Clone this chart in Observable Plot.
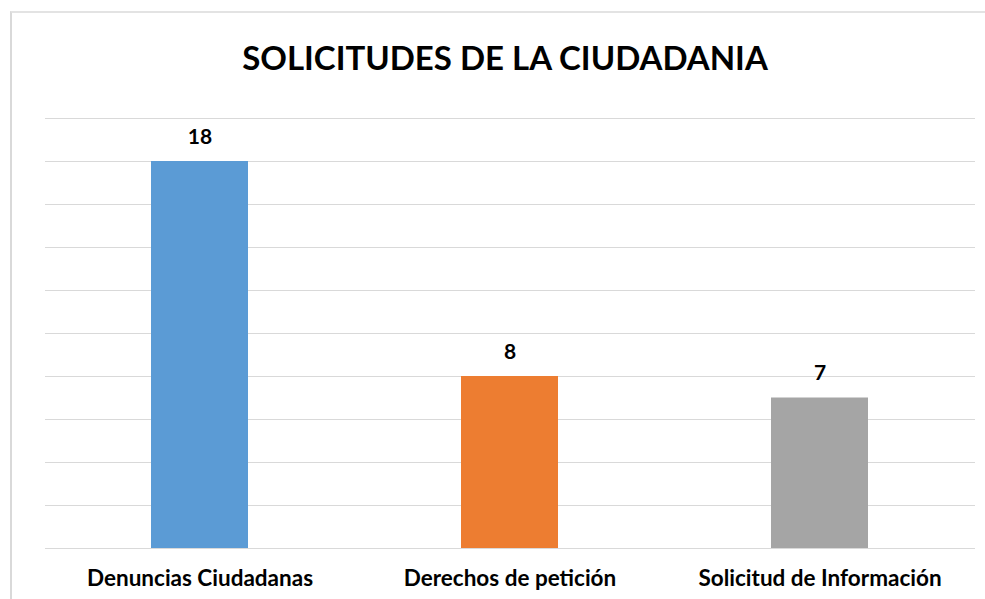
<!DOCTYPE html>
<html>
<head>
<meta charset="utf-8">
<script src="https://cdn.jsdelivr.net/npm/d3@7"></script>
<script src="https://cdn.jsdelivr.net/npm/@observablehq/plot@0.6"></script>
<style>
  html, body { margin: 0; padding: 0; background: #fff; }
  body { width: 985px; height: 599px; position: relative; overflow: hidden; font-family: Lato, "Open Sans", sans-serif; }
  #frame { position: absolute; left: 10px; top: 11px; width: 975px; height: 588px; border-left: 2px solid #d9d9d9; border-top: 2px solid #e3e3e3; box-sizing: border-box; }
  #title { position: absolute; left: 0; width: 1010px; top: 37px; text-align: center; font-weight: 700; font-size: 33px; color: #000; }
  #chart { position: absolute; left: 0; top: 100px; }
</style>
</head>
<body>
<div id="frame"></div>
<div id="title">SOLICITUDES DE LA CIUDADANIA</div>
<div id="chart"></div>
<script>
const categories = ["Denuncias Ciudadanas", "Derechos de petición", "Solicitud de Información"];
const values = [18, 8, 7];
const barColors = ["#5B9BD5", "#ED7D31", "#A5A5A5"];
const yTicks = [0, 2, 4, 6, 8, 10, 12, 14, 16, 18, 20];

const data = categories.map((c, i) => ({category: c, value: values[i], color: barColors[i]}));

const plot = Plot.plot({
  width: 985,
  height: 499,
  marginTop: 18,
  marginBottom: 51,
  marginLeft: 45,
  marginRight: 10,
  style: {fontFamily: "Lato, 'Open Sans', sans-serif", background: "transparent"},
  x: {domain: categories, paddingInner: 0.687, paddingOuter: 0.3435, label: null},
  y: {domain: [0, 20], label: null, axis: null},
  marks: [
    Plot.ruleY(yTicks, {stroke: "#d9d9d9", strokeWidth: 1.2}),
    Plot.barY(data, {x: "category", y: "value", fill: "color"}),
    Plot.text(data, {x: "category", y: "value", text: d => String(d.value), lineAnchor: "bottom", dy: -18, fontSize: 21, fontWeight: 700, fill: "#000"}),
    Plot.axisX({tickSize: 0, tickPadding: 22, fontSize: 22.5, fontWeight: 700, fill: "#000", stroke: null}),
  ]
});
document.getElementById("chart").appendChild(plot);
</script>
</body>
</html>
